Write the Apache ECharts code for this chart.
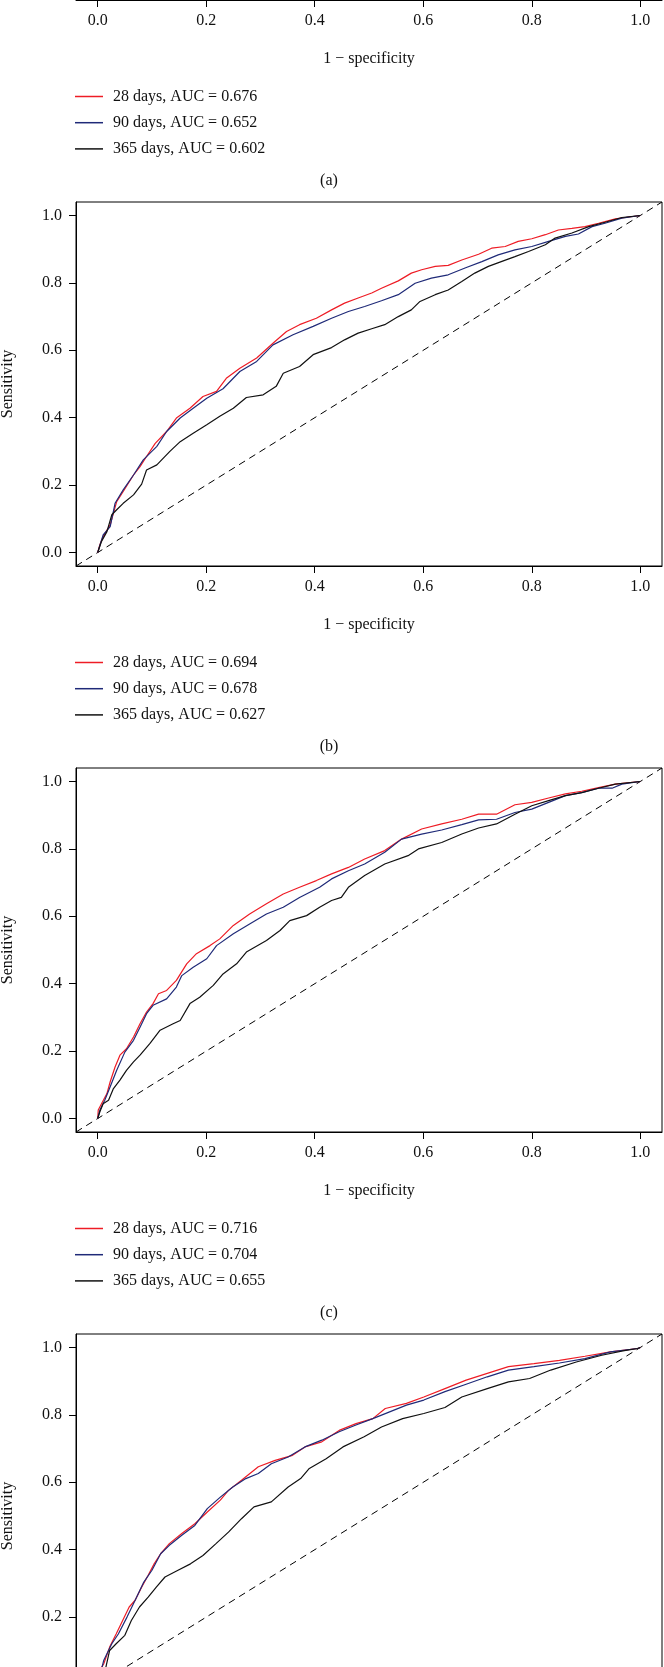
<!DOCTYPE html>
<html>
<head>
<meta charset="utf-8">
<script src="https://cdn.jsdelivr.net/npm/echarts@6/dist/echarts.min.js"></script>
<style>
html,body{margin:0;padding:0;background:#fff;overflow:hidden;width:664px;height:1667px;}
#c{position:absolute;left:0;top:-400px;width:664px;height:2400px;}
</style>
</head>
<body>
<div id="c"></div>
<script>
// ---- data ----
var panelLetters = ['(a)', '(b)', '(c)', '(d)'];
var horizons = ['28 days', '90 days', '365 days'];
var aucA = ['0.676', '0.652', '0.602'];
var aucB = ['0.694', '0.678', '0.627'];
var aucC = ['0.716', '0.704', '0.655'];
var tickValues = [0, 0.2, 0.4, 0.6, 0.8, 1.0];
var diagonal = [[-0.04, -0.04], [1.04, 1.04]];

// panel (a): curves lie outside the visible page
var a28 = [], a90 = [], a365 = [];

// panel (b) ROC points [1 - specificity, sensitivity]
var b28 = [[0,0],[0.004,0.023],[0.010,0.047],[0.023,0.082],[0.035,0.151],[0.047,0.181],[0.066,0.230],[0.078,0.255],[0.090,0.285],[0.106,0.324],[0.127,0.359],[0.145,0.399],[0.170,0.428],[0.194,0.463],[0.219,0.478],[0.237,0.517],[0.262,0.547],[0.293,0.577],[0.323,0.621],[0.348,0.656],[0.372,0.676],[0.403,0.695],[0.431,0.720],[0.455,0.740],[0.480,0.755],[0.505,0.770],[0.523,0.784],[0.554,0.806],[0.578,0.829],[0.597,0.839],[0.622,0.849],[0.646,0.852],[0.671,0.868],[0.702,0.885],[0.726,0.903],[0.751,0.908],[0.775,0.923],[0.800,0.931],[0.825,0.943],[0.849,0.957],[0.874,0.962],[0.898,0.967],[0.923,0.977],[0.954,0.990],[0.972,0.994],[1,1]];
var b90 = [[0,0],[0.010,0.052],[0.023,0.077],[0.032,0.146],[0.047,0.186],[0.066,0.230],[0.084,0.275],[0.109,0.315],[0.127,0.359],[0.152,0.399],[0.176,0.428],[0.201,0.458],[0.231,0.486],[0.262,0.537],[0.293,0.567],[0.323,0.616],[0.360,0.646],[0.397,0.671],[0.431,0.695],[0.462,0.715],[0.492,0.730],[0.523,0.747],[0.554,0.765],[0.585,0.799],[0.615,0.814],[0.646,0.824],[0.677,0.844],[0.708,0.863],[0.738,0.883],[0.769,0.898],[0.800,0.908],[0.831,0.923],[0.862,0.938],[0.886,0.945],[0.911,0.967],[0.935,0.977],[0.966,0.992],[1,1]];
var b365 = [[0,0],[0.007,0.033],[0.017,0.062],[0.026,0.112],[0.035,0.127],[0.047,0.146],[0.066,0.171],[0.081,0.203],[0.090,0.245],[0.109,0.260],[0.133,0.300],[0.152,0.329],[0.176,0.354],[0.201,0.379],[0.225,0.404],[0.250,0.428],[0.274,0.460],[0.305,0.468],[0.329,0.493],[0.342,0.532],[0.372,0.552],[0.397,0.587],[0.431,0.608],[0.455,0.631],[0.480,0.651],[0.505,0.664],[0.529,0.676],[0.554,0.700],[0.578,0.720],[0.594,0.745],[0.622,0.765],[0.646,0.779],[0.671,0.804],[0.695,0.829],[0.720,0.849],[0.745,0.864],[0.769,0.878],[0.794,0.893],[0.825,0.913],[0.843,0.933],[0.874,0.948],[0.905,0.967],[0.935,0.980],[0.966,0.994],[1,1]];

// panel (c)
var c28 = [[0,0],[0.001,0.025],[0.007,0.044],[0.017,0.074],[0.023,0.109],[0.032,0.153],[0.041,0.188],[0.053,0.207],[0.066,0.242],[0.078,0.281],[0.090,0.316],[0.102,0.341],[0.112,0.370],[0.127,0.380],[0.145,0.410],[0.164,0.459],[0.182,0.489],[0.207,0.513],[0.225,0.533],[0.250,0.573],[0.280,0.607],[0.311,0.637],[0.342,0.666],[0.372,0.686],[0.403,0.706],[0.431,0.726],[0.462,0.745],[0.492,0.770],[0.529,0.795],[0.560,0.829],[0.597,0.859],[0.634,0.874],[0.671,0.888],[0.702,0.903],[0.735,0.903],[0.769,0.931],[0.800,0.938],[0.831,0.951],[0.862,0.963],[0.892,0.971],[0.923,0.982],[0.954,0.992],[1,1]];
var c90 = [[0,0],[0.004,0.025],[0.013,0.054],[0.023,0.094],[0.035,0.143],[0.050,0.197],[0.066,0.232],[0.078,0.271],[0.090,0.311],[0.102,0.336],[0.127,0.355],[0.145,0.390],[0.155,0.424],[0.176,0.449],[0.201,0.474],[0.219,0.513],[0.250,0.548],[0.280,0.577],[0.311,0.607],[0.342,0.627],[0.372,0.656],[0.409,0.686],[0.431,0.711],[0.462,0.735],[0.492,0.755],[0.529,0.790],[0.560,0.829],[0.597,0.844],[0.634,0.856],[0.671,0.872],[0.702,0.886],[0.735,0.888],[0.769,0.908],[0.800,0.918],[0.831,0.938],[0.862,0.958],[0.892,0.967],[0.923,0.980],[0.948,0.980],[0.966,0.992],[1,1]];
var c365 = [[0,0],[0.004,0.020],[0.010,0.044],[0.020,0.054],[0.029,0.089],[0.041,0.114],[0.053,0.143],[0.066,0.168],[0.078,0.188],[0.096,0.222],[0.115,0.262],[0.139,0.281],[0.152,0.291],[0.170,0.341],[0.188,0.360],[0.213,0.395],[0.231,0.429],[0.256,0.459],[0.274,0.494],[0.311,0.528],[0.336,0.558],[0.354,0.587],[0.385,0.602],[0.409,0.627],[0.431,0.647],[0.449,0.656],[0.462,0.686],[0.492,0.721],[0.529,0.755],[0.572,0.780],[0.591,0.800],[0.634,0.819],[0.671,0.844],[0.702,0.862],[0.735,0.874],[0.769,0.903],[0.800,0.928],[0.831,0.943],[0.862,0.958],[0.892,0.967],[0.923,0.980],[0.954,0.992],[1,1]];

// panel (d)
var d28 = [[0,0],[0.007,0.051],[0.011,0.061],[0.022,0.111],[0.034,0.150],[0.046,0.190],[0.058,0.230],[0.069,0.250],[0.081,0.289],[0.093,0.324],[0.104,0.358],[0.116,0.388],[0.132,0.418],[0.155,0.448],[0.179,0.477],[0.202,0.512],[0.226,0.547],[0.241,0.576],[0.265,0.606],[0.296,0.646],[0.327,0.665],[0.359,0.680],[0.382,0.705],[0.413,0.720],[0.445,0.754],[0.476,0.774],[0.507,0.789],[0.530,0.819],[0.569,0.834],[0.601,0.853],[0.640,0.878],[0.679,0.903],[0.718,0.923],[0.757,0.943],[0.804,0.952],[0.851,0.962],[0.898,0.974],[0.945,0.987],[0.995,0.997],[1,1]];
var d90 = [[0,0],[0.011,0.071],[0.026,0.121],[0.038,0.150],[0.054,0.200],[0.069,0.250],[0.085,0.304],[0.100,0.339],[0.116,0.388],[0.132,0.413],[0.155,0.443],[0.179,0.472],[0.202,0.522],[0.226,0.556],[0.249,0.586],[0.273,0.611],[0.296,0.626],[0.320,0.655],[0.351,0.675],[0.382,0.705],[0.413,0.725],[0.445,0.750],[0.476,0.770],[0.507,0.789],[0.538,0.809],[0.569,0.829],[0.601,0.844],[0.640,0.869],[0.679,0.891],[0.718,0.913],[0.757,0.933],[0.804,0.943],[0.851,0.954],[0.898,0.967],[0.945,0.987],[0.995,0.997],[1,1]];
var d365 = [[0,0],[0.015,0.051],[0.022,0.101],[0.034,0.121],[0.050,0.146],[0.062,0.190],[0.077,0.230],[0.093,0.259],[0.108,0.289],[0.124,0.319],[0.148,0.339],[0.171,0.358],[0.194,0.383],[0.218,0.418],[0.241,0.452],[0.265,0.492],[0.288,0.527],[0.320,0.542],[0.351,0.586],[0.374,0.611],[0.390,0.641],[0.421,0.670],[0.452,0.705],[0.491,0.735],[0.523,0.764],[0.562,0.789],[0.601,0.804],[0.640,0.822],[0.671,0.853],[0.718,0.878],[0.757,0.898],[0.796,0.908],[0.835,0.933],[0.882,0.957],[0.929,0.977],[0.968,0.990],[0.995,0.997],[1,1]];

// ---- build ----
var panels = [
  {curves: [a28, a90, a365], auc: aucA},
  {curves: [b28, b90, b365], auc: aucB},
  {curves: [c28, c90, c365], auc: aucC},
  {curves: [d28, d90, d365], auc: null}
];
var colors = ['#ee1c25', '#1f2a78', '#111111'];
var FONT = 'Liberation Serif';
var TXT = '#111';
var PERIOD = 566, TOP0 = 36, GH = 364;

var grids = [], xAxes = [], yAxes = [], series = [], legends = [], graphics = [];
panels.forEach(function (p, k) {
  var top = TOP0 + PERIOD * k;
  grids.push({left: 76, width: 586, top: top, height: GH, show: true, outerBoundsMode: 'none', containLabel: false,
    borderColor: '#000', borderWidth: 1, backgroundColor: 'transparent'});
  xAxes.push({type: 'value', gridIndex: k, min: -0.04, max: 1.04, position: 'bottom',
    axisLine: {show: true, onZero: false, lineStyle: {color: '#000', width: 1}}, splitLine: {show: false},
    axisTick: {show: true, inside: false, length: 7, customValues: tickValues, lineStyle: {color: '#000', width: 1}},
    axisLabel: {show: true, customValues: tickValues, margin: 13, color: TXT, fontFamily: FONT, fontSize: 16,
      formatter: function (v) { return v.toFixed(1); }},
    name: '1 \u2212 specificity', nameLocation: 'middle', nameGap: 51,
    nameTextStyle: {color: TXT, fontFamily: FONT, fontSize: 16}});
  yAxes.push({type: 'value', gridIndex: k, min: -0.04, max: 1.04, position: 'left',
    axisLine: {show: true, onZero: false, lineStyle: {color: '#000', width: 1}}, splitLine: {show: false},
    axisTick: {show: true, inside: false, length: 7, customValues: tickValues, lineStyle: {color: '#000', width: 1}},
    axisLabel: {show: true, customValues: tickValues, margin: 14, color: TXT, fontFamily: FONT, fontSize: 16,
      formatter: function (v) { return v.toFixed(1); }},
    name: 'Sensitivity', nameLocation: 'middle', nameGap: 60,
    nameTextStyle: {color: TXT, fontFamily: FONT, fontSize: 16}});
  series.push({type: 'line', name: 'ref' + k, xAxisIndex: k, yAxisIndex: k, data: diagonal,
    symbol: 'none', silent: true, color: '#000',
    lineStyle: {color: '#000', width: 1, type: [7, 5]}, z: 1});
  var names = [];
  p.curves.forEach(function (cv, j) {
    var nm = p.auc ? horizons[j] + ', AUC = ' + p.auc[j] : horizons[j] + ' ' + panelLetters[k];
    names.push(nm);
    series.push({type: 'line', name: nm, xAxisIndex: k, yAxisIndex: k, data: cv,
      symbol: 'none', showSymbol: false, color: colors[j],
      lineStyle: {color: colors[j], width: 1.2}, z: 2 + j});
  });
  if (p.auc) {
    legends.push({data: names, orient: 'vertical', left: 75, top: top + 452.5, padding: 0,
      icon: 'rect', itemWidth: 28, itemHeight: 1.5, itemGap: 10.2, selectedMode: false,
      textStyle: {color: TXT, fontFamily: FONT, fontSize: 16, lineHeight: 16, padding: [0, 0, 0, 5]}});
    graphics.push({type: 'text', x: 329, y: top + 545, silent: true,
      style: {text: panelLetters[k], fill: TXT, font: '16px "Liberation Serif"', textAlign: 'center', textVerticalAlign: 'middle'}});
  }
});

var chart = echarts.init(document.getElementById('c'), null, {renderer: 'canvas'});
chart.setOption({
  animation: false,
  backgroundColor: '#fff',
  grid: grids, xAxis: xAxes, yAxis: yAxes, series: series, legend: legends,
  graphic: graphics
});
</script>
</body>
</html>
